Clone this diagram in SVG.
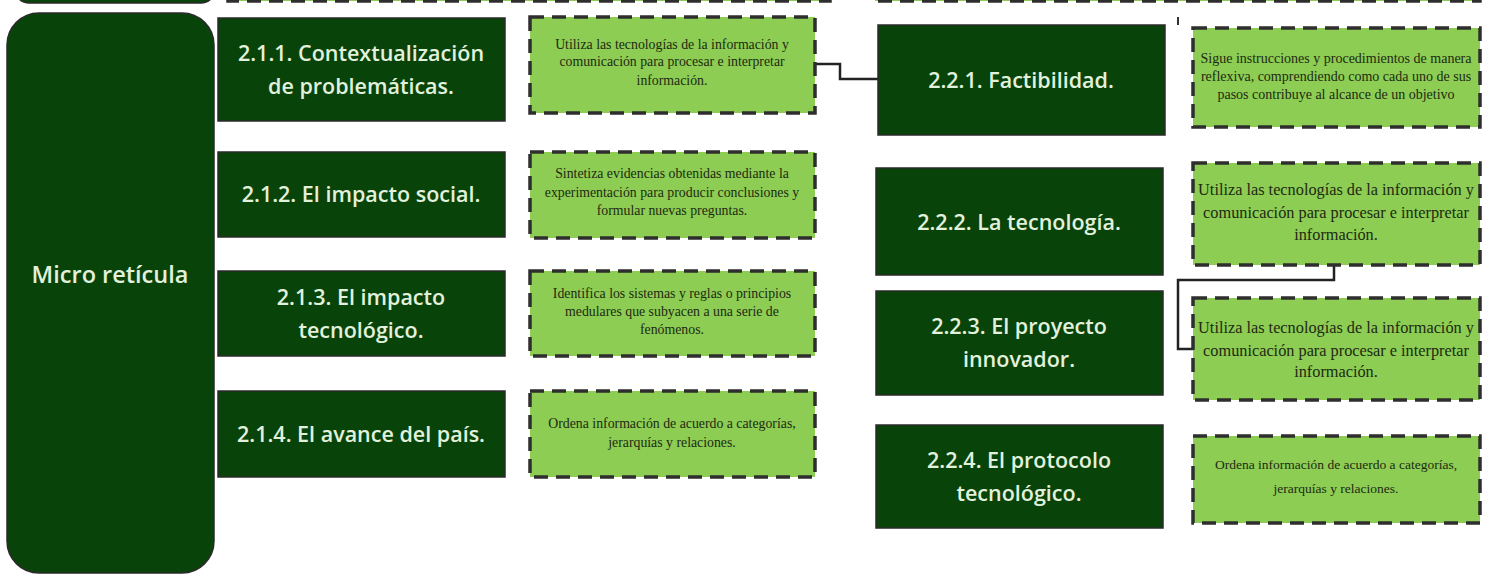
<svg xmlns="http://www.w3.org/2000/svg" width="1485" height="577" viewBox="0 0 1485 577">
  <style>
    .dark { fill: #08430a; stroke: #2a2a2a; stroke-width: 1.5; }
    .lite { fill: #8ecd53; stroke: #2e2e2e; stroke-width: 3.5; stroke-dasharray: 14 8; }
    .t { font-family: "Open Sans", Lato, sans-serif; font-weight: 600; font-size: 21.5px; fill: #e2f1dc; text-anchor: middle; }
    .big { font-size: 23.5px; }
    .s { font-family: "Liberation Serif", serif; font-size: 13.8px; fill: #1c2a12; text-anchor: middle; }
    .s1 { font-size: 14px; }
    .s2 { font-size: 16.3px; }
    .s4 { font-size: 13.5px; }
    .wire { fill: none; stroke: #222222; stroke-width: 2.5; }
  </style>

  <!-- shapes cut off at the top edge -->
  <g id="top-edge">
    <rect x="15" y="-60" width="200" height="63" rx="14" class="dark"/>
    <rect x="228" y="-60" width="602" height="61" class="lite"/>
    <rect x="875" y="-60" width="605" height="61" class="lite"/>
    <line x1="1178" y1="17" x2="1178" y2="25" stroke="#333" stroke-width="2"/>
  </g>

  <!-- connectors -->
  <g id="connectors">
    <polyline class="wire" points="815,64 840,64 840,79 878,79"/>
    <polyline class="wire" points="1334,265 1334,280 1178,280 1178,349 1193,349"/>
  </g>

  <g id="micro-reticula">
    <rect x="7" y="13" width="207" height="560" rx="32" class="dark"/>
    <text x="110" y="283" class="t big">Micro retícula</text>
  </g>

  <!-- column 2.1 -->
  <g id="n211">
    <rect x="218" y="18" width="287" height="103" class="dark"/>
    <text x="361" y="61" class="t">2.1.1. Contextualización</text>
    <text x="361" y="94" class="t">de problemáticas.</text>
  </g>
  <g id="n212">
    <rect x="218" y="152" width="287" height="85" class="dark"/>
    <text x="361" y="202" class="t">2.1.2.  El impacto social.</text>
  </g>
  <g id="n213">
    <rect x="218" y="271" width="287" height="85" class="dark"/>
    <text x="361" y="305" class="t">2.1.3.  El impacto</text>
    <text x="361" y="338" class="t">tecnológico.</text>
  </g>
  <g id="n214">
    <rect x="218" y="391" width="287" height="86" class="dark"/>
    <text x="361" y="442" class="t">2.1.4.  El avance del país.</text>
  </g>

  <g id="c211">
    <rect x="530" y="17" width="285" height="96" class="lite"/>
    <text x="672" y="49" class="s">Utiliza las tecnologías de la información y</text>
    <text x="672" y="66" class="s">comunicación para procesar e interpretar</text>
    <text x="672" y="85" class="s">información.</text>
  </g>
  <g id="c212">
    <rect x="530" y="152" width="285" height="86" class="lite"/>
    <text x="672" y="178" class="s">Sintetiza evidencias obtenidas mediante la</text>
    <text x="672" y="197" class="s">experimentación para producir conclusiones y</text>
    <text x="672" y="215" class="s">formular nuevas preguntas.</text>
  </g>
  <g id="c213">
    <rect x="530" y="271" width="285" height="85" class="lite"/>
    <text x="672" y="298" class="s">Identifica los sistemas y reglas o principios</text>
    <text x="672" y="316" class="s">medulares que subyacen a una serie de</text>
    <text x="672" y="334" class="s">fenómenos.</text>
  </g>
  <g id="c214">
    <rect x="530" y="391" width="285" height="86" class="lite"/>
    <text x="672" y="428" class="s">Ordena información de acuerdo a categorías,</text>
    <text x="672" y="447" class="s">jerarquías y relaciones.</text>
  </g>

  <!-- column 2.2 -->
  <g id="n221">
    <rect x="878" y="25" width="287" height="110" class="dark"/>
    <text x="1021" y="88" class="t">2.2.1.  Factibilidad.</text>
  </g>
  <g id="n222">
    <rect x="876" y="168" width="287" height="107" class="dark"/>
    <text x="1019" y="230" class="t">2.2.2. La tecnología.</text>
  </g>
  <g id="n223">
    <rect x="876" y="291" width="287" height="104" class="dark"/>
    <text x="1019" y="334" class="t">2.2.3. El proyecto</text>
    <text x="1019" y="367" class="t">innovador.</text>
  </g>
  <g id="n224">
    <rect x="876" y="425" width="287" height="103" class="dark"/>
    <text x="1019" y="468" class="t">2.2.4. El protocolo</text>
    <text x="1019" y="501" class="t">tecnológico.</text>
  </g>

  <g id="c221">
    <rect x="1193" y="28" width="287" height="99" class="lite"/>
    <text x="1336" y="63" class="s s1">Sigue instrucciones y procedimientos de manera</text>
    <text x="1336" y="81" class="s s1">reflexiva, comprendiendo como cada uno de sus</text>
    <text x="1336" y="99" class="s s1">pasos contribuye al alcance de un objetivo</text>
  </g>
  <g id="c222">
    <rect x="1193" y="163" width="287" height="102" class="lite"/>
    <text x="1336" y="195" class="s s2">Utiliza las tecnologías de la información y</text>
    <text x="1336" y="218" class="s s2">comunicación para procesar e interpretar</text>
    <text x="1336" y="240" class="s s2">información.</text>
  </g>
  <g id="c223">
    <rect x="1193" y="298" width="287" height="102" class="lite"/>
    <text x="1336" y="333" class="s s2">Utiliza las tecnologías de la información y</text>
    <text x="1336" y="356" class="s s2">comunicación para procesar e interpretar</text>
    <text x="1336" y="377" class="s s2">información.</text>
  </g>
  <g id="c224">
    <rect x="1193" y="436" width="287" height="87" class="lite"/>
    <text x="1336" y="469" class="s s4">Ordena información de acuerdo a categorías,</text>
    <text x="1336" y="493" class="s s4">jerarquías y relaciones.</text>
  </g>
</svg>
